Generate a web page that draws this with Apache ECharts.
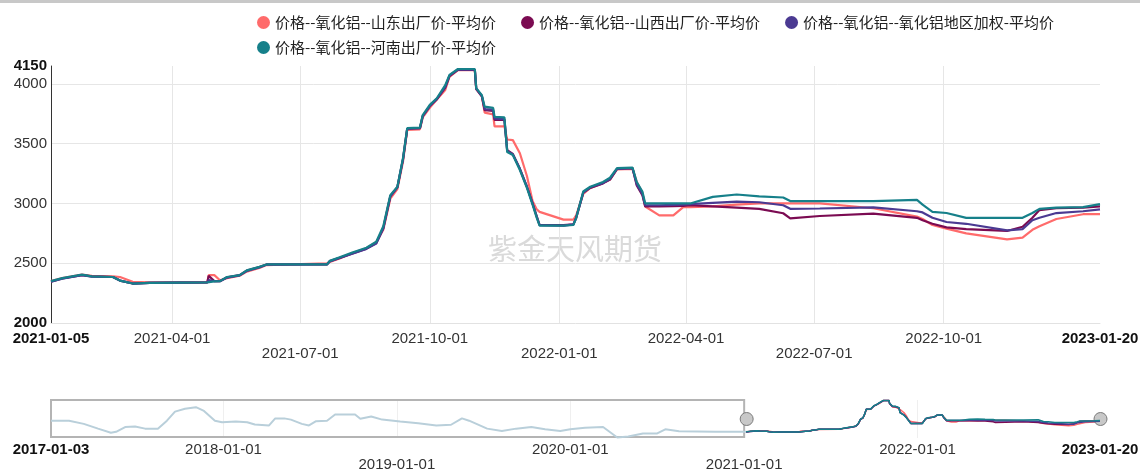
<!DOCTYPE html>
<html>
<head>
<meta charset="utf-8">
<style>
  html, body { margin: 0; padding: 0; background: #fff; }
  #chart-container { width: 1140px; height: 472px; }
</style>
<script src="https://cdn.jsdelivr.net/npm/echarts@6.0.0/dist/echarts.min.js"></script>
</head>
<body>
<div id="chart-container"></div>
<script>
var seriesNames = [
  "价格--氧化铝--山东出厂价-平均价",
  "价格--氧化铝--山西出厂价-平均价",
  "价格--氧化铝--氧化铝地区加权-平均价",
  "价格--氧化铝--河南出厂价-平均价",
];
var seriesColors = ["#ff6b6b", "#7b0b52", "#4b3a92", "#16808a"];

// main window 2021-01-05 .. 2023-01-20
var mainDates = [
  "2021-01-05", "2021-01-13", "2021-01-27", "2021-02-03", "2021-02-18", "2021-02-23",
  "2021-03-04", "2021-03-16", "2021-04-26", "2021-04-27", "2021-05-01", "2021-05-05",
  "2021-05-10", "2021-05-19", "2021-05-24", "2021-06-02", "2021-06-07", "2021-07-20",
  "2021-07-22", "2021-07-29", "2021-08-07", "2021-08-17", "2021-08-24", "2021-08-29",
  "2021-09-03", "2021-09-08", "2021-09-12", "2021-09-15", "2021-09-24", "2021-09-26",
  "2021-10-01", "2021-10-06", "2021-10-12", "2021-10-15", "2021-10-21", "2021-11-02",
  "2021-11-03", "2021-11-07", "2021-11-09", "2021-11-15", "2021-11-16", "2021-11-23",
  "2021-11-25", "2021-11-29", "2021-12-04", "2021-12-09", "2021-12-13", "2021-12-16",
  "2021-12-18", "2022-01-04", "2022-01-11", "2022-01-13", "2022-01-18", "2022-01-23",
  "2022-02-01", "2022-02-06", "2022-02-11", "2022-02-22", "2022-02-25", "2022-03-01",
  "2022-03-03", "2022-03-13", "2022-03-23", "2022-03-30", "2022-04-04", "2022-04-20",
  "2022-05-07", "2022-05-23", "2022-06-09", "2022-06-14", "2022-07-05", "2022-08-12",
  "2022-09-12", "2022-09-16", "2022-09-23", "2022-10-03", "2022-10-17", "2022-11-15",
  "2022-11-26", "2022-12-03", "2022-12-08", "2022-12-20", "2023-01-08", "2023-01-20",
];
var shandong = [
  2350, 2375, 2405, 2395, 2390, 2385, 2345, 2340, 2340, 2400, 2400, 2358,
  2375, 2395, 2430, 2460, 2485, 2500, 2510, 2540, 2585, 2625, 2675, 2780,
  3040, 3120, 3350, 3615, 3620, 3720, 3800, 3870, 3950, 4060, 4115, 4115,
  3955, 3900, 3760, 3745, 3645, 3645, 3535, 3530, 3420, 3230, 3020, 2950,
  2930, 2865, 2865, 2900, 3080, 3130, 3170, 3200, 3285, 3290, 3180, 3090,
  2975, 2900, 2900, 2970, 2970, 2975, 2990, 3000, 3000, 3000, 3000, 2960,
  2890, 2870, 2820, 2790, 2750, 2700, 2715, 2780, 2810, 2870, 2910, 2910,
];
var shanxi = [
  2345, 2372, 2400, 2390, 2385, 2355, 2330, 2335, 2340, 2395, 2350, 2350,
  2382, 2400, 2438, 2468, 2490, 2490, 2518, 2545, 2582, 2622, 2668, 2795,
  3060, 3135, 3370, 3625, 3630, 3730, 3815, 3870, 3970, 4065, 4118, 4118,
  3958, 3895, 3780, 3775, 3700, 3700, 3445, 3415, 3290, 3140, 3000, 2890,
  2820, 2818, 2825, 2880, 3090, 3130, 3168, 3200, 3290, 3295, 3150, 3070,
  2975, 2975, 2978, 2980, 2985, 2975, 2965, 2955, 2918, 2876, 2895, 2915,
  2880, 2860, 2830, 2800, 2785, 2770, 2805, 2880, 2945, 2960, 2965, 2975,
];
var weighted = [
  2345, 2370, 2400, 2388, 2385, 2355, 2330, 2335, 2340, 2360, 2350, 2350,
  2380, 2398, 2435, 2465, 2488, 2490, 2515, 2545, 2580, 2620, 2665, 2790,
  3060, 3135, 3370, 3625, 3630, 3730, 3815, 3875, 3975, 4070, 4120, 4120,
  3960, 3900, 3790, 3785, 3710, 3705, 3440, 3410, 3290, 3140, 3000, 2890,
  2818, 2815, 2825, 2880, 3090, 3135, 3170, 3205, 3290, 3295, 3160, 3080,
  2985, 2985, 2988, 2990, 2995, 3005, 3015, 3010, 2985, 2955, 2958, 2968,
  2935, 2925, 2880, 2845, 2830, 2775, 2785, 2860, 2880, 2920, 2935, 2950,
];
var henan = [
  2350, 2375, 2405, 2390, 2385, 2355, 2330, 2335, 2340, 2345, 2348, 2350,
  2385, 2400, 2440, 2470, 2490, 2490, 2520, 2550, 2590, 2630, 2680, 2810,
  3070, 3140, 3380, 3630, 3635, 3740, 3825, 3880, 3990, 4075, 4125, 4125,
  3965, 3905, 3810, 3800, 3725, 3720, 3430, 3405, 3280, 3130, 2990, 2880,
  2815, 2815, 2820, 2880, 3100, 3140, 3180, 3215, 3295, 3300, 3180, 3100,
  3000, 3000, 3000, 3000, 3000, 3055, 3075, 3060, 3050, 3020, 3020, 3020,
  3030, 2990, 2930, 2920, 2880, 2880, 2880, 2920, 2955, 2965, 2970, 2995,
];

// earlier history, only seen in the navigator strip
var histDates = [
  "2017-01-03", "2017-02-10", "2017-03-13", "2017-04-12", "2017-05-09", "2017-05-20",
  "2017-06-08", "2017-06-29", "2017-07-20", "2017-08-16", "2017-09-04", "2017-09-21",
  "2017-10-12", "2017-11-04", "2017-11-21", "2017-12-14", "2017-12-29", "2018-01-27",
  "2018-02-20", "2018-03-08", "2018-04-07", "2018-04-20", "2018-05-09", "2018-05-23",
  "2018-06-15", "2018-06-30", "2018-07-15", "2018-08-07", "2018-08-24", "2018-10-05",
  "2018-10-16", "2018-11-08", "2018-12-01", "2019-01-08", "2019-02-15", "2019-03-25",
  "2019-04-25", "2019-05-18", "2019-06-02", "2019-07-10", "2019-08-10", "2019-09-09",
  "2019-10-11", "2019-11-09", "2019-12-11", "2020-01-01", "2020-02-01", "2020-03-10",
  "2020-04-09", "2020-05-02", "2020-06-02", "2020-07-02", "2020-07-19", "2020-08-17",
  "2020-11-01", "2021-01-05",
];
var histValues = [
  2980, 2980, 2800, 2530, 2295, 2350, 2620, 2650, 2530, 2530, 2980, 3490,
  3655, 3745, 3530, 2980, 2890, 2930, 2890, 2760, 2710, 3110, 3110, 3040,
  2800, 2710, 2950, 2980, 3330, 3330, 3090, 3220, 3040, 2930, 2840, 2710,
  2750, 3110, 2980, 2530, 2400, 2530, 2620, 2490, 2400, 2490, 2580, 2620,
  2025, 2080, 2260, 2260, 2490, 2380, 2350, 2350,
];

var yTicks = [2000, 2500, 3000, 3500, 4000, 4150];
var yBold = [2000, 4150];
var xTicks = ["2021-01-05", "2021-04-01", "2021-07-01", "2021-10-01", "2022-01-01",
  "2022-04-01", "2022-07-01", "2022-10-01", "2023-01-20"];
var xTicksLow = ["2021-07-01", "2022-01-01", "2022-07-01"];
var navTicks = ["2017-01-03", "2018-01-01", "2019-01-01", "2020-01-01", "2021-01-01",
  "2022-01-01", "2023-01-20"];
var navTicksLow = ["2019-01-01", "2021-01-01"];

function ts(d) {
  var p = d.split("-");
  return new Date(+p[0], +p[1] - 1, +p[2]).getTime();
}
function pairs(dates, vals) {
  return dates.map(function (d, i) { return [ts(d), vals[i]]; });
}
function dateLabel(ticks, low) {
  var ends = [ticks[0], ticks[ticks.length - 1]];
  return function (value) {
    var d = echarts.time.format(value, "{yyyy}-{MM}-{dd}", false);
    var s = ends.indexOf(d) >= 0 ? "{b|" + d + "}" : d;
    return low.indexOf(d) >= 0 ? "\n" + s : s;
  };
}

var labelFont = "Liberation Sans, Arial, sans-serif";
var boldRich = { b: { fontWeight: "bold", color: "#111", fontSize: 15, fontFamily: labelFont, lineHeight: 15 } };
var valuesBySeries = [shandong, shanxi, weighted, henan];

var dom = document.getElementById("chart-container");
var myChart = echarts.init(dom, null, { renderer: "canvas" });

var series = [];
valuesBySeries.forEach(function (vals, i) {
  series.push({
    name: seriesNames[i],
    type: "line",
    xAxisIndex: 0,
    yAxisIndex: 0,
    data: pairs(mainDates, vals),
    showSymbol: false,
    color: seriesColors[i],
    lineStyle: { width: 2.2 },
    z: 2 + i,
  });
});
series.push({
  name: "history",
  type: "line",
  xAxisIndex: 1,
  yAxisIndex: 1,
  data: pairs(histDates, histValues),
  showSymbol: false,
  silent: true,
  color: "#b9cfda",
  lineStyle: { width: 2 },
});
valuesBySeries.forEach(function (vals, i) {
  series.push({
    name: seriesNames[i],
    type: "line",
    xAxisIndex: 1,
    yAxisIndex: 1,
    data: pairs(mainDates, vals),
    showSymbol: false,
    silent: true,
    color: seriesColors[i],
    lineStyle: { width: 1.5 },
    z: 2 + i,
  });
});

var option = {
  animation: false,
  textStyle: { fontFamily: labelFont },
  legend: [
    {
      data: seriesNames.slice(0, 3),
      left: 252,
      top: 10,
      icon: "circle",
      itemWidth: 13,
      itemHeight: 13,
      itemGap: 25,
      textStyle: { fontSize: 15, color: "#222", fontFamily: "Noto Sans CJK SC" },
    },
    {
      data: seriesNames.slice(3),
      left: 252,
      top: 35,
      icon: "circle",
      itemWidth: 13,
      itemHeight: 13,
      textStyle: { fontSize: 15, color: "#222", fontFamily: "Noto Sans CJK SC" },
    },
  ],
  grid: [
    { left: 51, right: 40, top: 66, height: 257, outerBoundsMode: "none" },
    { left: 51, right: 40, top: 400, height: 38, outerBoundsMode: "none" },
  ],
  xAxis: [
    {
      type: "value",
      gridIndex: 0,
      min: ts(xTicks[0]),
      max: ts(xTicks[xTicks.length - 1]),
      axisLine: { lineStyle: { color: "#e2e2e2" } },
      axisTick: { show: false, customValues: xTicks.map(ts) },
      axisLabel: {
        customValues: xTicks.map(ts),
        formatter: dateLabel(xTicks, xTicksLow),
        fontSize: 15,
        lineHeight: 15,
        color: "#333",
        margin: 8,
        rich: boldRich,
      },
      splitLine: { show: true, showMinLine: false, showMaxLine: false, lineStyle: { color: "#e6e6e6" } },
    },
    {
      type: "value",
      gridIndex: 1,
      min: ts(navTicks[0]),
      max: ts(navTicks[navTicks.length - 1]),
      axisLine: { show: false },
      axisTick: { show: false, customValues: navTicks.map(ts) },
      axisLabel: {
        customValues: navTicks.map(ts),
        formatter: dateLabel(navTicks, navTicksLow),
        fontSize: 15,
        lineHeight: 15,
        color: "#333",
        margin: 4,
        rich: boldRich,
      },
      splitLine: { show: true, showMinLine: false, showMaxLine: false, lineStyle: { color: "#efefef" } },
    },
  ],
  yAxis: [
    {
      type: "value",
      gridIndex: 0,
      min: 2000,
      max: 4150,
      axisLine: { show: true, lineStyle: { color: "#333" } },
      axisTick: { show: false, customValues: yTicks },
      axisLabel: {
        customValues: yTicks,
        fontSize: 15,
        color: "#333",
        margin: 4,
        formatter: function (v) { return yBold.indexOf(v) >= 0 ? "{b|" + v + "}" : String(v); },
        rich: boldRich,
      },
      splitLine: { show: true, showMinLine: false, showMaxLine: false, lineStyle: { color: "#e6e6e6" } },
    },
    { type: "value", gridIndex: 1, min: 2000, max: 4150, show: false },
  ],
  dataZoom: [
    {
      type: "slider",
      xAxisIndex: 0,
      filterMode: "none",
      start: 0,
      end: 100,
      left: 744,
      right: 40,
      top: 400,
      height: 38,
      showDetail: false,
      showDataShadow: false,
      brushSelect: false,
      moveHandleSize: 0,
      backgroundColor: "rgba(0,0,0,0)",
      fillerColor: "rgba(0,0,0,0)",
      borderColor: "rgba(0,0,0,0)",
      handleIcon: "circle",
      handleSize: 13,
      handleStyle: { color: "#c8c8c8", borderColor: "#7a7a7a", borderWidth: 1 },
    },
  ],
  series: series,
};

if (option && typeof option === "object") {
  myChart.setOption(option);
}

// decorations placed from the navigator axis
var boxLeft = myChart.convertToPixel({ xAxisIndex: 1 }, ts(navTicks[0]));
var boxRight = myChart.convertToPixel({ xAxisIndex: 1 }, ts("2021-01-01"));
myChart.setOption({
  dataZoom: [{ left: boxRight }],
  graphic: [
    { type: "rect", shape: { x: 0, y: 0, width: 1140, height: 3 }, style: { fill: "#c8c8c8" }, silent: true },
    {
      type: "text",
      x: 575,
      y: 249,
      z: -1,
      silent: true,
      style: {
        text: "紫金天风期货",
        fill: "#dadada",
        font: "29px 'Noto Sans CJK SC'",
        textAlign: "center",
        textVerticalAlign: "middle",
      },
    },
    {
      type: "rect",
      silent: true,
      shape: { x: boxLeft, y: 400, width: boxRight - boxLeft, height: 37 },
      style: { fill: "none", stroke: "#b4b4b4", lineWidth: 2 },
    },
  ],
});

window.addEventListener("resize", myChart.resize);
</script>
</body>
</html>
